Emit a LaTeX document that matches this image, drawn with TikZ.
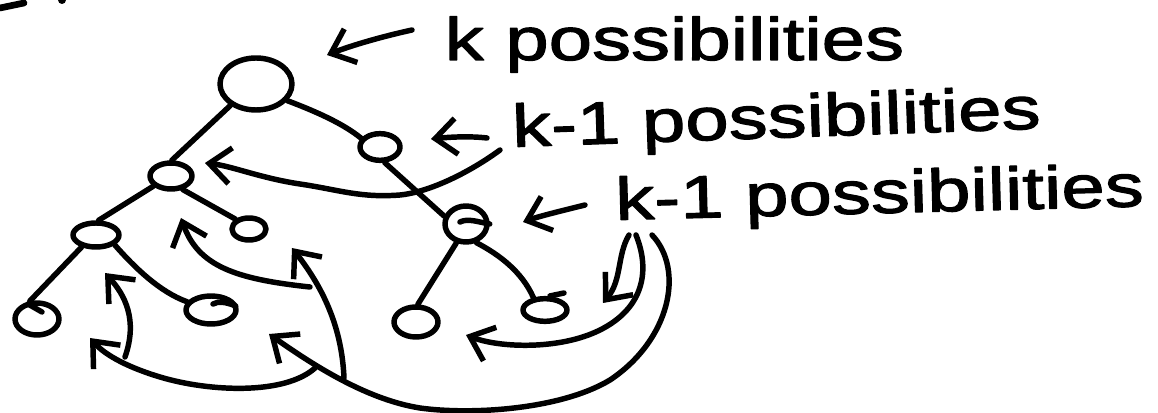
\documentclass[tikz,border=0pt]{standalone}
\usepackage{fontspec}
\newfontfamily\hand[FakeStretch=1.3,FakeBold=2]{Liberation Sans}
\usetikzlibrary{arrows.meta,shapes.geometric}
\begin{document}
\begin{tikzpicture}[x=0.75pt,y=-0.75pt,
  line width=4.1pt, line cap=round, line join=round,
  nd/.style={draw, ellipse, inner sep=0pt, line width=4.1pt},
  arr/.style={-{Straight Barb[length=16pt,width=27pt]}},
  lbl/.style={font=\hand\fontsize{45pt}{50pt}\selectfont, anchor=base west, inner sep=0pt}]
\useasboundingbox (0,0) rectangle (1158,413);

% stray marks at the top-left corner
\draw[line width=5pt] (0,8) -- (24,3);
\fill (62,0) circle (4);

% tree nodes
\node[nd, minimum width=54pt, minimum height=39pt] (R) at (256,84) {};
\node[nd, minimum width=30pt, minimum height=20pt] (A) at (380,147) {};
\node[nd, minimum width=31.5pt, minimum height=19.5pt] (B) at (171,176) {};
\node[nd, minimum width=25.5pt, minimum height=16.5pt] (C) at (249,229) {};
\node[nd, minimum width=34.5pt, minimum height=18pt] (D) at (96,235) {};
\node[nd, minimum width=31.5pt, minimum height=27pt] (E) at (466,224) {};
\node[nd, minimum width=33pt, minimum height=24pt] (L1) at (37,319) {};
\node[nd, minimum width=37.5pt, minimum height=21pt] (L2) at (211,310) {};
\node[nd, minimum width=33pt, minimum height=22.5pt] (L3) at (416,322) {};
\node[nd, minimum width=33pt, minimum height=17pt] (L4) at (545,310) {};

% small hand-drawn hooks on some nodes
\draw (E.east) .. controls (478,222) and (468,218) .. (460,222);
\draw (L2.east) ++(-3,-4) .. controls (226,302) and (218,301) .. (213,304);
\draw (L1.center) ++(-9,-15) -- (42,312);
\draw (L4.north) ++(5,0) -- (564,293);

% tree edges
\draw (R.220) -- (B.87);
\draw (R.332) .. controls (320,113) and (345,125) .. (A.155);
\draw (A.287) -- (E.160);
\draw (B.210) -- (D.80);
\draw (B.311) -- (C.144);
\draw (D.220) -- (L1.112);
\draw (D.332) .. controls (135,268) and (160,292) .. (L2.161);
\draw (E.243) -- (L3.84);
\draw (E.299) .. controls (500,255) and (522,272) .. (L4.133);

% labels
\node[lbl] (T1) at (442,60) {k possibilities};
\node[lbl, rotate=2] (T2) at (510,147) {k-1 possibilities};
\node[lbl, rotate=1.5] (T3) at (613,220) {k-1 possibilities};

% label arrows
\coordinate (t1s) at (412,30);  \coordinate (t1e) at (327,55);
\coordinate (t2s) at (487,138); \coordinate (t2e) at (431,139);
\coordinate (t3s) at (585,205); \coordinate (t3e) at (523,222);
\draw[arr] (t1s) .. controls (380,37) and (350,46) .. (t1e);
\draw[arr] (t2s) .. controls (470,136) and (450,137) .. (t2e);
\draw[arr] (t3s) .. controls (565,210) and (540,216) .. (t3e);

% curved arrows
\coordinate (a1s) at (500,150); \coordinate (a1e) at (205,163);
\draw[arr] (a1s) .. controls (470,172) and (430,192) .. (400,195)
  .. controls (360,198) and (340,190) .. (300,184)
  .. controls (260,178) and (232,166) .. (a1e);

\coordinate (a2s) at (310,287); \coordinate (a2e) at (181,218);
\draw[arr] (a2s) .. controls (235,279) and (198,266) .. (a2e);

\coordinate (a3s) at (344,378); \coordinate (a3e) at (292,248);
\draw[arr] (a3s) .. controls (342,330) and (325,290) .. (a3e);

\coordinate (a4s) at (125,357); \coordinate (a4e) at (105,273);
\draw[arr] (a4s) .. controls (138,320) and (125,295) .. (a4e);

\coordinate (a5s) at (315,368); \coordinate (a5e) at (90,338);
\draw[arr] (a5s) .. controls (285,395) and (210,392) .. (160,377)
  .. controls (130,368) and (106,356) .. (a5e);

\coordinate (a6s) at (652,235); \coordinate (a6e) at (269,334);
\draw[arr] (a6s) .. controls (685,270) and (670,340) .. (610,380)
  .. controls (560,410) and (470,415) .. (420,408)
  .. controls (370,400) and (320,370) .. (a6e);

\coordinate (a7s) at (636,235); \coordinate (a7e) at (466,335);
\draw[arr] (a7s) .. controls (652,275) and (640,310) .. (600,330)
  .. controls (560,350) and (500,348) .. (a7e);

\coordinate (a8s) at (629,235); \coordinate (a8e) at (603,303);
\draw[arr] (a8s) .. controls (617,255) and (622,280) .. (a8e);
\end{tikzpicture}
\end{document}
